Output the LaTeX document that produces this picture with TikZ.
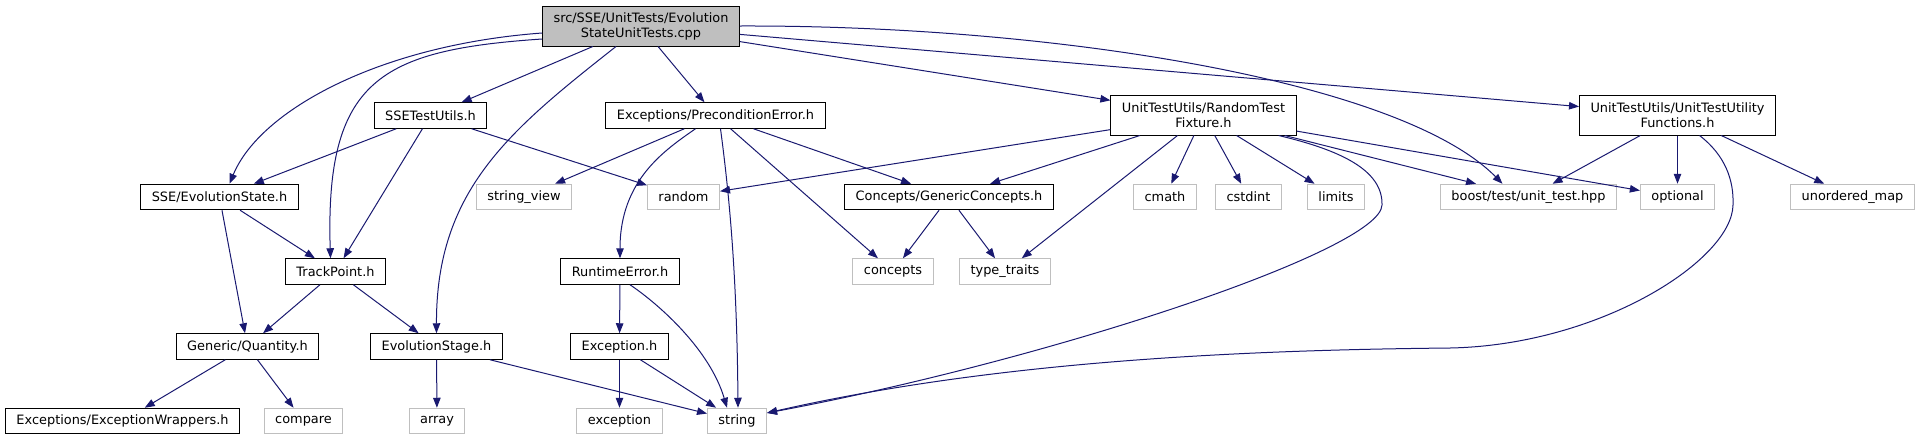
\documentclass[tikz,border=0pt]{standalone}
\usepackage{fontspec}
\setmainfont{DejaVu Sans}
\usepackage{tikz}
\usetikzlibrary{positioning, arrows.meta}
\usepackage{xcolor}
\definecolor{edgeblue}{HTML}{191970}
\definecolor{sysgray}{HTML}{BFBFBF}

\begin{document}
\begin{tikzpicture}[x=1pt, y=-1pt,
    hdr/.style={draw=black, line width=1pt, fill=white, inner xsep=11pt, inner ysep=0pt,
      minimum height=25.5pt, align=center, font=\fontsize{12.9}{15}\selectfont},
    sys/.style={hdr, draw=sysgray},
    rootfile/.style={hdr, fill=sysgray, minimum height=40pt},
    twoline/.style={minimum height=40pt},
    dep/.style={draw=edgeblue, line width=1pt, -{Triangle[length=10pt, width=7.5pt]}}]
  % Graphe des inclusions
  \useasboundingbox (0,0) rectangle (1919,440);
  \node[rootfile] (root) at (641,26) {src/SSE/UnitTests/Evolution\\StateUnitTests.cpp};
  \node[hdr] (ssetu) at (430.5,115.5) {SSETestUtils.h};
  \node[hdr] (prec) at (715.5,115.5) {Exceptions/PreconditionError.h};
  \node[hdr, twoline] (rtf) at (1203.5,115) {UnitTestUtils/RandomTest\\Fixture.h};
  \node[hdr, twoline] (utf) at (1677.5,115) {UnitTestUtils/UnitTestUtility\\Functions.h};
  \node[hdr] (evs) at (219.5,197) {SSE/EvolutionState.h};
  \node[sys] (sview) at (524,197) {string\_view};
  \node[sys] (rnd) at (683.5,197) {random};
  \node[hdr] (gcon) at (949,197) {Concepts/GenericConcepts.h};
  \node[sys] (cmath) at (1165,197) {cmath};
  \node[sys] (cstdint) at (1248.5,197) {cstdint};
  \node[sys] (limits) at (1336,197) {limits};
  \node[sys] (boost) at (1528.5,197) {boost/test/unit\_test.hpp};
  \node[sys] (optional) at (1677.5,197) {optional};
  \node[sys] (umap) at (1852.5,197) {unordered\_map};
  \node[hdr] (track) at (335.5,271.5) {TrackPoint.h};
  \node[hdr] (rterr) at (620,271.5) {RuntimeError.h};
  \node[sys] (concepts) at (893,271.5) {concepts};
  \node[sys] (ttraits) at (1005,271.5) {type\_traits};
  \node[hdr] (qty) at (247.5,346.5) {Generic/Quantity.h};
  \node[hdr] (stage) at (436.5,346.5) {EvolutionStage.h};
  \node[hdr] (exc) at (619.5,346.5) {Exception.h};
  \node[hdr] (excw) at (122.5,421) {Exceptions/ExceptionWrappers.h};
  \node[sys] (compare) at (303.5,421) {compare};
  \node[sys] (array) at (437,421) {array};
  \node[sys] (exception) at (619.5,421) {exception};
  \node[sys] (string) at (737,421) {string};

  \draw[dep] ([yshift=-7pt]root.west) .. controls (380,45) and (260,110) .. ([xshift=10pt]evs.north);
  \draw[dep] ([yshift=-13pt]root.west) .. controls (380,50) and (325,80) .. ([xshift=-5pt]track.north);
  \draw[dep] (root) -- (ssetu);
  \draw[dep] ([xshift=-25pt]root.south) .. controls (510,130) and (436,190) .. (stage.north);
  \draw[dep] (root) -- (prec);
  \draw[dep] (root) -- (rtf);
  \draw[dep] (root.east) .. controls (1050,25) and (1400,80) .. ([xshift=-26pt]boost.north);
  \draw[dep] (root) -- (utf);
  \draw[dep] (ssetu) -- (evs);
  \draw[dep] (ssetu) -- (track);
  \draw[dep] (ssetu) -- (rnd);
  \draw[dep] (prec) -- (sview);
  \draw[dep] ([xshift=-20pt]prec.south) .. controls (665,150) and (620,180) .. (rterr.north);
  \draw[dep] ([xshift=5pt]prec.south) .. controls (730,200) and (737,280) .. ([xshift=1pt]string.north);
  \draw[dep] (prec) -- (concepts);
  \draw[dep] (prec) -- (gcon);
  \draw[dep] (rtf) -- (rnd);
  \draw[dep] (rtf) -- (gcon);
  \draw[dep] (rtf) -- (ttraits);
  \draw[dep] (rtf) -- (cmath);
  \draw[dep] (rtf) -- (cstdint);
  \draw[dep] (rtf) -- (limits);
  \draw[dep] ([xshift=-18pt]rtf.south east) .. controls (1340,150) and (1383,170) .. (1382,205)
    .. controls (1381,250) and (1050,360) .. (string.15);
  \draw[dep] (rtf) -- (boost);
  \draw[dep] (rtf) -- (optional);
  \draw[dep] (utf) -- (boost);
  \draw[dep] (utf) -- (optional);
  \draw[dep] ([xshift=22pt]utf.south) .. controls (1725,155) and (1734,180) .. (1733,205)
    .. controls (1732,260) and (1600,345) .. (1450,348)
    .. controls (1250,350) and (1000,360) .. (string.15);
  \draw[dep] (utf) -- (umap);
  \draw[dep] (gcon) -- (concepts);
  \draw[dep] (gcon) -- (ttraits);
  \draw[dep] (evs) -- (track);
  \draw[dep] (evs) -- (qty);
  \draw[dep] (track) -- (qty);
  \draw[dep] (track) -- (stage);
  \draw[dep] (qty) -- (excw);
  \draw[dep] (qty) -- (compare);
  \draw[dep] (stage) -- (array);
  \draw[dep] (stage) -- (string);
  \draw[dep] (rterr) -- (exc);
  \draw[dep] ([xshift=10pt]rterr.south) .. controls (660,305) and (710,350) .. ([xshift=-10pt]string.north);
  \draw[dep] (exc) -- (exception);
  \draw[dep] (exc) -- (string);
\end{tikzpicture}
\end{document}
